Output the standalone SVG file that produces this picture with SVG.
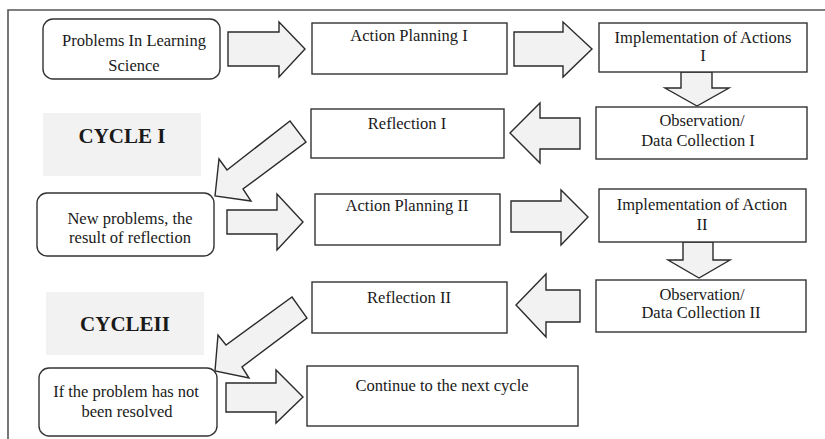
<svg xmlns="http://www.w3.org/2000/svg" width="825" height="439" viewBox="0 0 825 439">
<style>
.box{fill:#fff;stroke:#333;stroke-width:1.4}
.arrow{fill:#f2f2f2;stroke:#2b2b2b;stroke-width:1.4;stroke-linejoin:miter}
.lbl{fill:#f2f2f2;stroke:none}
text{font-family:"Liberation Serif","Times New Roman",serif;font-size:16.5px;fill:#1a1a1a;text-anchor:middle}
.cyc{font-size:21px;font-weight:bold}
</style>
<rect width="825" height="439" fill="#fff"/>
<path d="M8,439 V10 H825" fill="none" stroke="#555" stroke-width="1.6"/>

<g id="connectors">
<polygon class="arrow" points="228,32 279,32 279,22 305,49 279,77 279,66 228,66"/>
<polygon class="arrow" points="514,32 563,32 563,22 592,49 563,77 563,66 514,66"/>
<polygon class="arrow" points="681,72 712,72 712,88 729,88 697,106 665,88 681,88"/>
<polygon class="arrow" points="580,118 540,118 540,103 510,133 540,163 540,149 580,149"/>
<polygon class="arrow" points="215,196 219,159 227,170 290,121 306,142 243,189 251,201"/>
<polygon class="arrow" points="227,210 277,210 277,194 303,222 277,250 277,234 227,234"/>
<polygon class="arrow" points="511,201 561,201 561,190 588,217 561,245 561,232 511,232"/>
<polygon class="arrow" points="683,242 713,242 713,260 730,260 699,278 668,260 683,260"/>
<polygon class="arrow" points="580,290 546,290 546,274 516,305 546,337 546,322 580,322"/>
<polygon class="arrow" points="215,371 218,335 226,345 292,297 307,318 242,367 249,378"/>
<polygon class="arrow" points="226,383 276,383 276,370 303,397 276,423 276,412 226,412"/>
</g>

<g id="problems">
<rect class="box" x="43" y="19" width="177" height="60" rx="10"/>
<text x="134" y="46">Problems In Learning</text>
<text x="134" y="71">Science</text>
</g>
<g id="action-planning-1">
<rect class="box" x="312" y="23" width="195" height="51"/>
<text x="409" y="41">Action Planning I</text>
</g>
<g id="implementation-1">
<rect class="box" x="599" y="23" width="208" height="49"/>
<text x="703" y="43">Implementation of Actions</text>
<text x="703" y="61">I</text>
</g>
<g id="observation-1">
<rect class="box" x="596" y="107" width="211" height="52"/>
<text x="702" y="126">Observation/</text>
<text x="698" y="146">Data Collection I</text>
</g>
<g id="reflection-1">
<rect class="box" x="311" y="109" width="193" height="49"/>
<text x="407" y="129">Reflection I</text>
</g>
<g id="cycle-1">
<rect class="lbl" x="43" y="113" width="158" height="63"/>
<text class="cyc" x="122" y="143">CYCLE I</text>
</g>
<g id="new-problems">
<rect class="box" x="37" y="193" width="177" height="63" rx="10"/>
<text x="130" y="224">New problems, the</text>
<text x="130" y="243">result of reflection</text>
</g>
<g id="action-planning-2">
<rect class="box" x="315" y="194" width="185" height="51"/>
<text x="407" y="211">Action Planning II</text>
</g>
<g id="implementation-2">
<rect class="box" x="599" y="189" width="207" height="53"/>
<text x="702" y="210">Implementation of Action</text>
<text x="702" y="230">II</text>
</g>
<g id="observation-2">
<rect class="box" x="596" y="280" width="210" height="52"/>
<text x="702" y="300">Observation/</text>
<text x="701" y="318">Data Collection II</text>
</g>
<g id="reflection-2">
<rect class="box" x="312" y="282" width="195" height="51"/>
<text x="409" y="303">Reflection II</text>
</g>
<g id="cycle-2">
<rect class="lbl" x="46" y="292" width="158" height="63"/>
<text class="cyc" x="125" y="331">CYCLEII</text>
</g>
<g id="not-resolved">
<rect class="box" x="39" y="368" width="178" height="68" rx="10"/>
<text x="126" y="397">If the problem has not</text>
<text x="127" y="417">been resolved</text>
</g>
<g id="continue">
<rect class="box" x="307" y="366" width="271" height="60"/>
<text x="442" y="391">Continue to the next cycle</text>
</g>
</svg>
